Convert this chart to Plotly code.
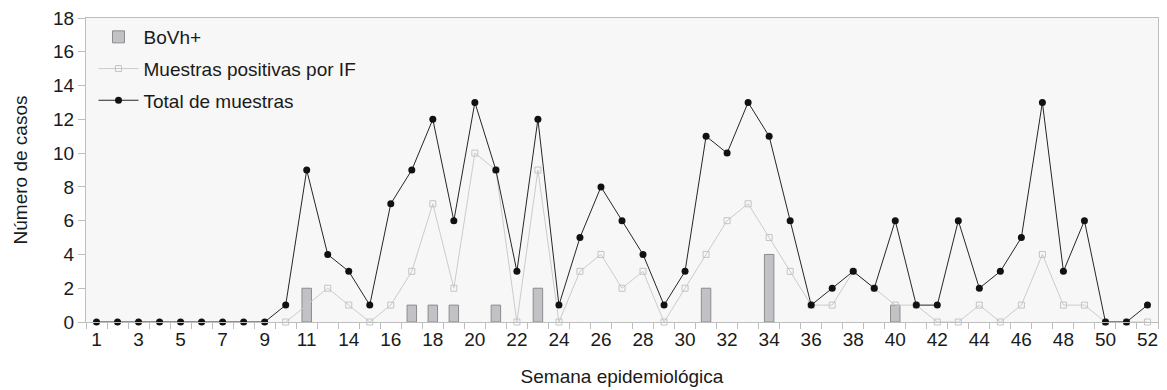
import plotly.graph_objects as go

# Epidemiological weeks (categories, in order as shown on the axis)
weeks = ["1", "2", "3", "4", "5", "6", "7", "8", "9", "10", "11", "12",
         "14", "15", "16", "17", "18", "19", "20", "21", "22", "23", "24",
         "25", "26", "27", "28", "29", "30", "31", "32", "33", "34", "35",
         "36", "37", "38", "39", "40", "41", "42", "43", "44", "45", "46",
         "47", "48", "49", "50", "51", "52"]

# BoVh+ (bars)
bovh = [None, None, None, None, None, None, None, None, None, None, 2, None,
        None, None, None, 1, 1, 1, None, 1, None, 2, None, None, None, None,
        None, None, None, 2, None, None, 4, None, None, None, None, None, 1,
        None, None, None, None, None, None, None, None, None, None, None, None]

# Muestras positivas por IF
positivas_if = [None, None, None, None, None, None, None, None, None,
                0, 1, 2, 1, 0, 1, 3, 7, 2, 10, 9, 0, 9, 0, 3, 4, 2, 3, 0,
                2, 4, 6, 7, 5, 3, 1, 1, 3, 2, 1, 1, 0, 0, 1, 0, 1, 4, 1, 1,
                0, 0, 0]

# Total de muestras
total = [0, 0, 0, 0, 0, 0, 0, 0, 0, 1, 9, 4, 3, 1, 7, 9, 12, 6, 13, 9, 3, 12,
         1, 5, 8, 6, 4, 1, 3, 11, 10, 13, 11, 6, 1, 2, 3, 2, 6, 1, 1, 6, 2, 3,
         5, 13, 3, 6, 0, 0, 1]

pos = list(range(1, len(weeks) + 1))
tick_pos = pos[::2]
tick_text = weeks[::2]

FONT = "Liberation Sans, Arial, sans-serif"
GRID = "#bdbdbd"

fig = go.Figure()

fig.add_trace(go.Bar(
    x=pos, y=bovh, name="BoVh+", width=0.45,
    marker=dict(color="#c2c2c6", line=dict(color="#8c8c8c", width=1)),
    legendgroup="a",
))
fig.add_trace(go.Scatter(
    x=pos, y=positivas_if, name="Muestras positivas por IF",
    mode="lines+markers", cliponaxis=False,
    line=dict(color="#cbcbcb", width=1),
    marker=dict(symbol="square-open", size=6, color="#c4c4c4",
                line=dict(width=1)),
    legendgroup="b",
))
fig.add_trace(go.Scatter(
    x=pos, y=total, name="Total de muestras",
    mode="lines+markers", cliponaxis=False,
    line=dict(color="#262626", width=1),
    marker=dict(symbol="circle", size=7, color="#111111"),
    legendgroup="c",
))

fig.update_layout(
    width=1159, height=382,
    margin=dict(l=78, r=9, t=10, b=68),
    paper_bgcolor="white",
    plot_bgcolor="#f7f7f7",
    font=dict(family=FONT, size=19, color="#1a1a1a"),
    showlegend=True,
    barmode="overlay",
    legend=dict(
        x=0.007, y=1.0, xanchor="left", yanchor="top",
        bgcolor="rgba(0,0,0,0)", font=dict(size=19),
        traceorder="grouped", tracegroupgap=4,
        itemwidth=40,
    ),
    xaxis=dict(
        automargin=False,
        ticklabeloverflow="allow",
        range=[0.5, len(weeks) + 0.5],
        tickmode="array", tickvals=tick_pos, ticktext=tick_text,
        ticks="", showline=True, linecolor=GRID, linewidth=1, mirror=True,
        showgrid=False, zeroline=False,
        tickfont=dict(size=19),
        minor=dict(tickmode="linear", tick0=0.5, dtick=1, ticks="outside",
                   ticklen=6, tickcolor=GRID, showgrid=False),
        title=dict(text="Semana epidemiológica", font=dict(size=19),
                   standoff=20),
    ),
    yaxis=dict(
        automargin=False,
        ticklabeloverflow="allow",
        range=[0, 18], dtick=2, tick0=0,
        ticks="outside", ticklen=7, tickcolor=GRID,
        showline=True, linecolor=GRID, linewidth=1, mirror=True,
        showgrid=False, zeroline=False,
        tickfont=dict(size=19),
        title=dict(text="Número de casos", font=dict(size=19), standoff=20),
    ),
)

fig.write_html("out.html")
